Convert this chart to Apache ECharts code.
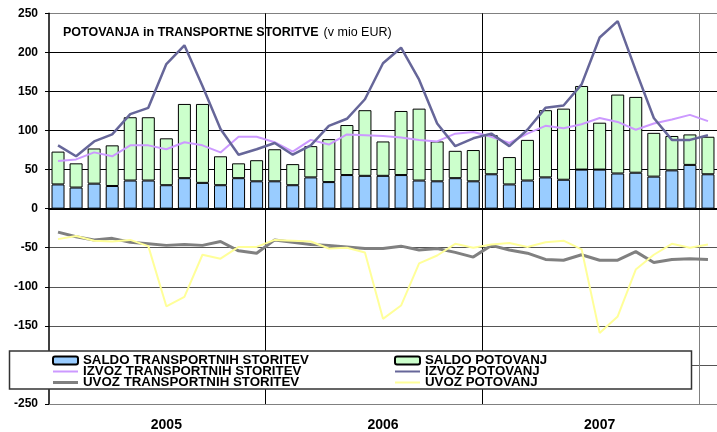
<!DOCTYPE html>
<html lang="sl">
<head>
    <meta charset="UTF-8">
    <title>Potovanja in transportne storitve</title>
    <style>
        body {
            margin: 0;
            padding: 0;
            background: #ffffff;
        }

        #chart {
            width: 717px;
            height: 432px;
        }
    </style>
    <script src="https://cdn.jsdelivr.net/npm/echarts@6/dist/echarts.min.js"></script>
</head>
<body>
    <div id="chart"></div>

    <script>
        // months jan 2005 .. jan 2008
        const months = [
            '2005-01', '2005-02', '2005-03', '2005-04', '2005-05', '2005-06',
            '2005-07', '2005-08', '2005-09', '2005-10', '2005-11', '2005-12',
            '2006-01', '2006-02', '2006-03', '2006-04', '2006-05', '2006-06',
            '2006-07', '2006-08', '2006-09', '2006-10', '2006-11', '2006-12',
            '2007-01', '2007-02', '2007-03', '2007-04', '2007-05', '2007-06',
            '2007-07', '2007-08', '2007-09', '2007-10', '2007-11', '2007-12',
            '2008-01'
        ];
        // which month carries the year label
        const yearLabelIndex = [6, 18, 30];

        const saldoTransport = [
            31, 27, 32, 29, 36, 36, 30, 39, 33, 30, 39, 35,
            35, 30, 40, 34, 43, 42, 42, 43, 36, 35, 39, 35,
            44, 31, 36, 40, 37, 50, 50, 45, 46, 41, 49, 56,
            44
        ];
        const saldoPotovanj = [
            42, 31, 45, 52, 81, 81, 60, 95, 101, 37, 19, 27,
            41, 27, 40, 55, 64, 84, 44, 82, 92, 51, 35, 40,
            50, 35, 52, 86, 91, 107, 60, 101, 97, 56, 44, 39,
            48
        ];
        const izvozTransport = [
            61, 63, 72, 67, 81, 81, 76, 85, 81, 72, 92, 92,
            85, 73, 88, 82, 95, 94, 93, 91, 88, 86, 96, 98,
            92, 84, 96, 106, 103, 108, 116, 111, 101, 109, 114, 120,
            112
        ];
        const izvozPotovanj = [
            81, 67, 86, 95, 121, 129, 185, 209, 157, 102, 69, 76,
            84, 69, 81, 106, 115, 140, 186, 206, 165, 109, 80, 90,
            96, 80, 101, 129, 132, 159, 219, 240, 177, 116, 88, 88,
            94
        ];
        const uvozTransport = [
            -30, -36, -40, -38, -43, -45, -47, -46, -47, -42, -54, -57,
            -40, -43, -46, -47, -49, -51, -51, -48, -53, -51, -56, -62,
            -47, -53, -57, -65, -66, -59, -66, -66, -55, -69, -65, -64,
            -65
        ];
        const uvozPotovanj = [
            -39, -35, -41, -42, -40, -48, -125, -113, -59, -64, -49, -49,
            -40, -41, -42, -51, -50, -56, -141, -124, -70, -60, -45, -50,
            -46, -44, -49, -43, -41, -52, -159, -138, -78, -59, -45, -50,
            -46
        ];

        const font = "'Liberation Sans', Arial, sans-serif";

        // legend icons for the lines: thin bars instead of line+dot
        const thinLine = 'path://M0,0L25,0L25,2L0,2Z';
        const thickLine = 'path://M0,0L25,0L25,3L0,3Z';

        const chart = echarts.init(document.getElementById('chart'));

        const legendText = {
            fontFamily: font,
            fontSize: 13.3,
            fontWeight: 'bold',
            color: '#000',
            lineHeight: 11
        };

        const option = {
            animation: false,
            title: {
                left: 63,
                top: 24,
                padding: 0,
                text: '{b|POTOVANJA in TRANSPORTNE STORITVE} {n|(v mio EUR)}',
                textStyle: {
                    rich: {
                        b: { fontFamily: font, fontSize: 12.5, fontWeight: 'bold', color: '#000' },
                        n: { fontFamily: font, fontSize: 12.5, fontWeight: 'normal', color: '#000' }
                    }
                }
            },
            grid: {
                left: 49,
                top: 13.3,
                bottom: 27.7,
                right: -6
            },
            legend: [
                {
                    data: [
                        'SALDO TRANSPORTNIH STORITEV',
                        { name: 'IZVOZ TRANSPORTNIH STORITEV', icon: thinLine },
                        { name: 'UVOZ TRANSPORTNIH STORITEV', icon: thickLine }
                    ],
                    orient: 'vertical',
                    left: 52,
                    top: 354,
                    padding: 0,
                    itemWidth: 25,
                    itemHeight: 8,
                    itemGap: -2,
                    textStyle: legendText,
                    z: 200
                },
                {
                    data: [
                        'SALDO POTOVANJ',
                        { name: 'IZVOZ POTOVANJ', icon: thinLine },
                        { name: 'UVOZ POTOVANJ', icon: thinLine }
                    ],
                    orient: 'vertical',
                    left: 394,
                    top: 354,
                    padding: 0,
                    itemWidth: 25,
                    itemHeight: 8,
                    itemGap: -2,
                    textStyle: legendText,
                    z: 200
                }
            ],
            graphic: {
                elements: [
                    {
                        type: 'rect',
                        z: 100,
                        shape: { x: 9.5, y: 351, width: 682, height: 38 },
                        style: { fill: '#fff', stroke: '#333', lineWidth: 1.5 }
                    }
                ]
            },
            xAxis: [
                {
                    type: 'category',
                    data: months,
                    position: 'bottom',
                    axisLine: { onZero: true, lineStyle: { color: '#000', width: 2 } },
                    axisTick: { show: false },
                    axisLabel: { show: false },
                    splitLine: { show: false }
                },
                {
                    type: 'category',
                    data: months,
                    position: 'bottom',
                    axisLine: { onZero: false, lineStyle: { color: '#808080', width: 1 } },
                    axisTick: { show: false },
                    axisLabel: {
                        margin: 14,
                        interval: (index) => yearLabelIndex.includes(index),
                        formatter: (value) => value.slice(0, 4),
                        fontFamily: font,
                        fontSize: 14,
                        fontWeight: 'bold',
                        color: '#000'
                    },
                    splitLine: {
                        show: true,
                        interval: (index) => index > 0 && index % 12 === 0,
                        lineStyle: { color: ['#000', '#000', '#808080'], width: 1 }
                    }
                }
            ],
            yAxis: {
                type: 'value',
                min: -250,
                max: 250,
                interval: 50,
                axisLine: { show: true, lineStyle: { color: '#000', width: 1.5 } },
                axisTick: { show: true, length: 4, lineStyle: { color: '#000' } },
                axisLabel: {
                    margin: 11,
                    fontFamily: font,
                    fontSize: 12,
                    fontWeight: 'bold',
                    color: '#000'
                },
                splitLine: {
                    lineStyle: {
                        color: ['#808080', '#555', '#555', '#555', '#555', '#000',
                                '#000', '#000', '#000', '#000', '#808080'],
                        width: 1
                    }
                }
            },
            series: [
                {
                    name: 'SALDO TRANSPORTNIH STORITEV',
                    type: 'bar',
                    stack: 'saldo',
                    data: saldoTransport,
                    barWidth: 13,
                    itemStyle: { color: '#99ccff', borderColor: '#000', borderWidth: 1 }
                },
                {
                    name: 'SALDO POTOVANJ',
                    type: 'bar',
                    stack: 'saldo',
                    data: saldoPotovanj,
                    barWidth: 13,
                    itemStyle: { color: '#ccffcc', borderColor: '#000', borderWidth: 1 }
                },
                {
                    name: 'IZVOZ TRANSPORTNIH STORITEV',
                    type: 'line',
                    data: izvozTransport,
                    symbol: 'none',
                    lineStyle: { color: '#cc99ff', width: 2 },
                    itemStyle: { color: '#cc99ff' }
                },
                {
                    name: 'IZVOZ POTOVANJ',
                    type: 'line',
                    data: izvozPotovanj,
                    symbol: 'none',
                    lineStyle: { color: '#666699', width: 2.5 },
                    itemStyle: { color: '#666699' }
                },
                {
                    name: 'UVOZ TRANSPORTNIH STORITEV',
                    type: 'line',
                    data: uvozTransport,
                    symbol: 'none',
                    lineStyle: { color: '#808080', width: 3 },
                    itemStyle: { color: '#808080' }
                },
                {
                    name: 'UVOZ POTOVANJ',
                    type: 'line',
                    data: uvozPotovanj,
                    symbol: 'none',
                    lineStyle: { color: '#ffff99', width: 2 },
                    itemStyle: { color: '#ffff99' }
                }
            ]
        };

        chart.setOption(option);
    </script>
</body>
</html>
